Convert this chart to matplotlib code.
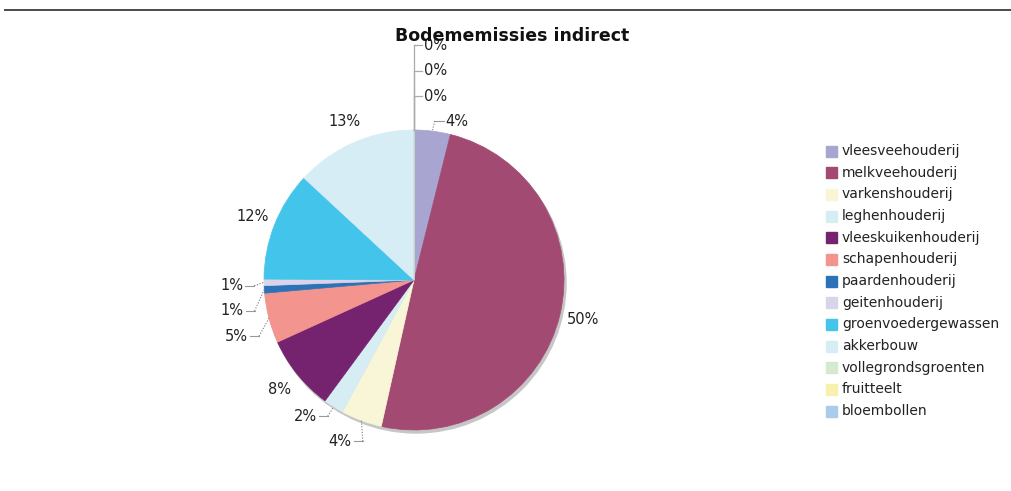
import numpy as np
import matplotlib.pyplot as plt
from matplotlib.patches import Circle, Rectangle

# sectors and their share of the indirect soil emissions (%)
sectors = ["vleesveehouderij", "melkveehouderij", "varkenshouderij", "leghenhouderij",
           "vleeskuikenhouderij", "schapenhouderij", "paardenhouderij", "geitenhouderij",
           "groenvoedergewassen", "akkerbouw", "vollegrondsgroenten", "fruitteelt", "bloembollen"]
shares = [3.9, 49.6, 4.4, 2.2, 8.1, 5.4, 0.8, 0.7, 11.8, 13.1, 0.0, 0.0, 0.0]
colors = ["#a9a5d1", "#a34a72", "#f8f6d6", "#d7edf4", "#76236f", "#f3948f", "#2b73b9",
          "#d9d4ea", "#43c5eb", "#d7edf5", "#d5e9d1", "#f6f1ad", "#aacbeb"]
title = "Bodememissies indirect"

# label nudges (dx, dy) in pixels for the crowded slices, y pointing down
nudge = {0: (22, 13), 2: (-13, -1), 3: (-16, -10), 5: (-10, 12), 6: (-9, 20), 7: (-9, 3)}

W, H = 1011, 491
fig = plt.figure(figsize=(W / 100, H / 100), dpi=100)
ax = fig.add_axes([0, 0, 1, 1])
cx, cy, R = 414, H - 280, 150

# soft drop shadow under the pie
ax.add_patch(Circle((cx + 2, cy - 3), R, color="#c6c6c6", zorder=0))
wedges, _ = ax.pie(shares, colors=colors, startangle=90, counterclock=False,
                   radius=R, center=(cx, cy), wedgeprops=dict(linewidth=0.5))
for w in wedges:
    w.set_edgecolor(w.get_facecolor())
    w.set_zorder(1)

ax.set_xlim(0, W)
ax.set_ylim(0, H)
ax.set_aspect("equal")
ax.set_axis_off()

renderer = fig.canvas.get_renderer()
zero_k = 0
for i, (w, v) in enumerate(zip(wedges, shares)):
    mid = np.deg2rad((w.theta1 + w.theta2) / 2)
    ex, ey = cx + R * np.cos(mid), cy + R * np.sin(mid)
    label = f"{v:.0f}%"
    if v == 0:
        # empty slices are stacked above the top of the pie
        ly = ey + 34 + zero_k * 25.5
        ax.plot([ex, ex], [ey, ly], color="#aaaaaa", lw=0.9, zorder=2)
        ax.plot([ex, ex + 8], [ly, ly], color="#aaaaaa", lw=0.9, zorder=2)
        ax.text(ex + 10, ly, label, ha="left", va="center", fontsize=10.5, color="#222222", zorder=3)
        zero_k += 1
        continue
    lx = cx + 1.155 * R * np.cos(mid)
    ly = cy + 1.155 * R * np.sin(mid)
    dx, dy = nudge.get(i, (0, 0))
    lx += dx
    ly -= dy
    t = ax.text(lx, ly, label, ha="center", va="center", fontsize=10.5, color="#222222", zorder=3)
    if i in nudge:
        bb = t.get_window_extent(renderer)
        side = 1 if lx > cx else -1
        near = bb.x0 - 2 if side > 0 else bb.x1 + 2
        elbow = near - side * 9
        ax.plot([near, elbow], [ly, ly], color="#999999", lw=0.8, zorder=2)
        ax.plot([elbow, ex], [ly, ey], color="#777777", lw=0.8, ls=(0, (1, 1.5)), zorder=2)

# legend
for k, (name, col) in enumerate(zip(sectors, colors)):
    yk = H - (151 + k * 21.67)
    ax.add_patch(Rectangle((826, yk - 5.5), 11, 11, color=col, zorder=2))
    ax.text(842, yk, name, ha="left", va="center", fontsize=10, color="#222222")

ax.text(512, H - 36, title, ha="center", va="center", fontsize=12.5,
        fontweight="bold", color="#111111", zorder=5)
ax.plot([5, W], [H - 10, H - 10], color="#4a4a4a", lw=1.4)

fig.savefig("out.png", dpi=100)
